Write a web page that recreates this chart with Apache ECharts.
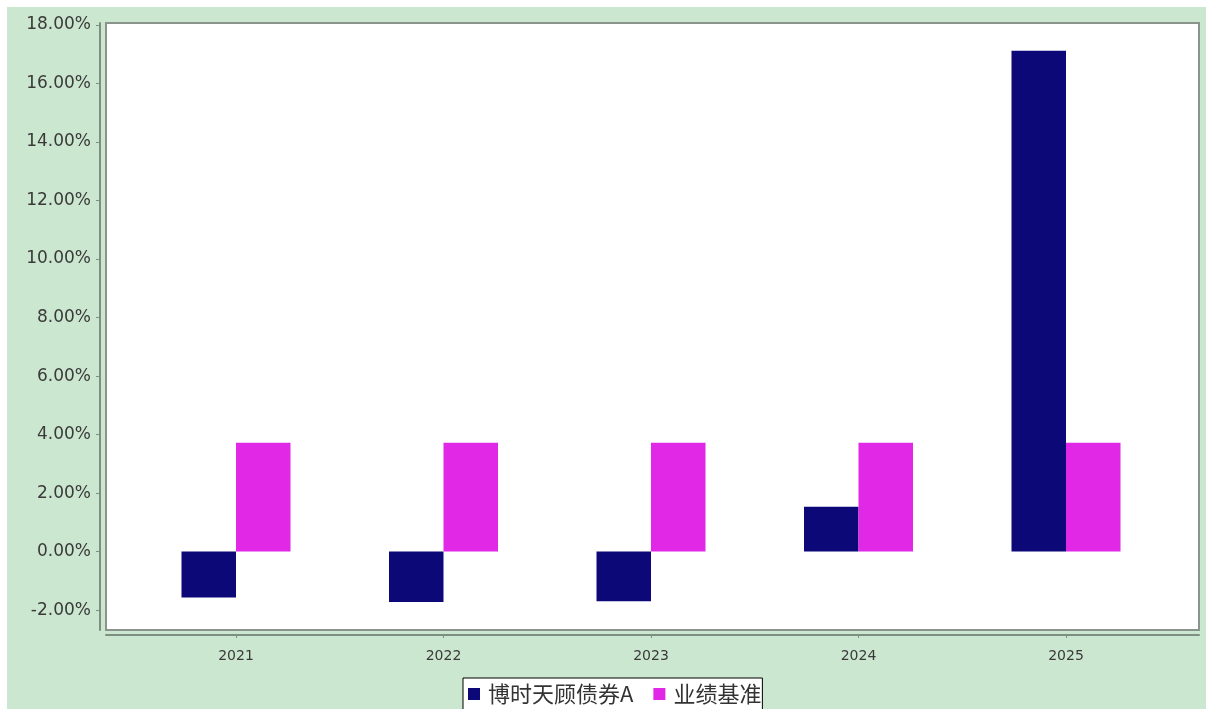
<!DOCTYPE html>
<html>
<head>
<meta charset="utf-8">
<script src="https://cdn.jsdelivr.net/npm/echarts@6/dist/echarts.min.js"></script>
<style>
html,body{margin:0;padding:0;background:#fff;width:1206px;height:709px;overflow:hidden;}
#c{position:absolute;left:7px;top:7px;width:1199px;height:702px;}
</style>
</head>
<body>
<div id="c"></div>
<script>
const categories = ['2021', '2022', '2023', '2024', '2025'];
const fundName = '博时天顾债券A';
const benchName = '业绩基准';
const fundValues = [-1.57, -1.72, -1.70, 1.53, 17.12];
const benchValues = [3.72, 3.72, 3.72, 3.72, 3.72];
const yTicks = [-2, 0, 2, 4, 6, 8, 10, 12, 14, 16, 18];

const chart = echarts.init(document.getElementById('c'));
const axisColor = '#7d8f80';
const yMin = -2.68, yMax = 18.07;
chart.setOption({
  backgroundColor: '#cce7d0',
  animation: false,
  grid: [
    {left: 99, right: 7, top: 16, bottom: 79, show: true, backgroundColor: '#ffffff', borderColor: '#8a948c', borderWidth: 2},
    {left: 125.25, right: 36.25, top: 16, bottom: 79}
  ],
  xAxis: [
    {gridIndex: 0, type: 'value', min: 0, max: 1, offset: 5, position: 'bottom',
     axisLine: {show: true, onZero: false, lineStyle: {color: axisColor, width: 2}},
     axisTick: {show: false}, axisLabel: {show: false}, splitLine: {show: false}},
    {gridIndex: 1, type: 'category', data: categories, offset: 5, position: 'bottom',
     axisLine: {show: false, onZero: false},
     axisTick: {show: true, alignWithLabel: true, length: 3, lineStyle: {color: axisColor}},
     axisLabel: {color: '#3a3a3a', fontFamily: 'DejaVu Sans', fontSize: 14, margin: 14},
     splitLine: {show: false}}
  ],
  yAxis: [
    {gridIndex: 0, type: 'value', min: yMin, max: yMax, offset: 6, position: 'left',
     axisLine: {show: true, onZero: false, lineStyle: {color: axisColor, width: 2}},
     axisTick: {show: true, length: 4, customValues: yTicks, lineStyle: {color: axisColor}},
     axisLabel: {customValues: yTicks, color: '#3a3a3a', fontFamily: 'DejaVu Sans', fontSize: 17, margin: 9,
       padding: [5, 0, 0, 0],
       formatter: v => v.toFixed(2) + '%'},
     splitLine: {show: false}},
    {gridIndex: 1, type: 'value', min: yMin, max: yMax, show: false, splitLine: {show: false}}
  ],
  legend: {
    left: 456, top: 671,
    padding: [5, 1, 5, 5],
    itemWidth: 12, itemHeight: 12, itemGap: 20,
    icon: 'rect',
    backgroundColor: '#ffffff', borderColor: '#000000', borderWidth: 1, borderRadius: 0,
    textStyle: {fontFamily: 'Noto Sans CJK SC', fontSize: 22, color: '#333333', padding: [0, 0, 0, 3]},
    data: [fundName, benchName]
  },
  series: [
    {name: fundName, type: 'bar', xAxisIndex: 1, yAxisIndex: 1, data: fundValues,
     barWidth: 54.5, barGap: '0%', itemStyle: {color: '#0c0878'}},
    {name: benchName, type: 'bar', xAxisIndex: 1, yAxisIndex: 1, data: benchValues,
     barWidth: 54.5, barGap: '0%', itemStyle: {color: '#e028e6'}}
  ]
});
</script>
</body>
</html>
